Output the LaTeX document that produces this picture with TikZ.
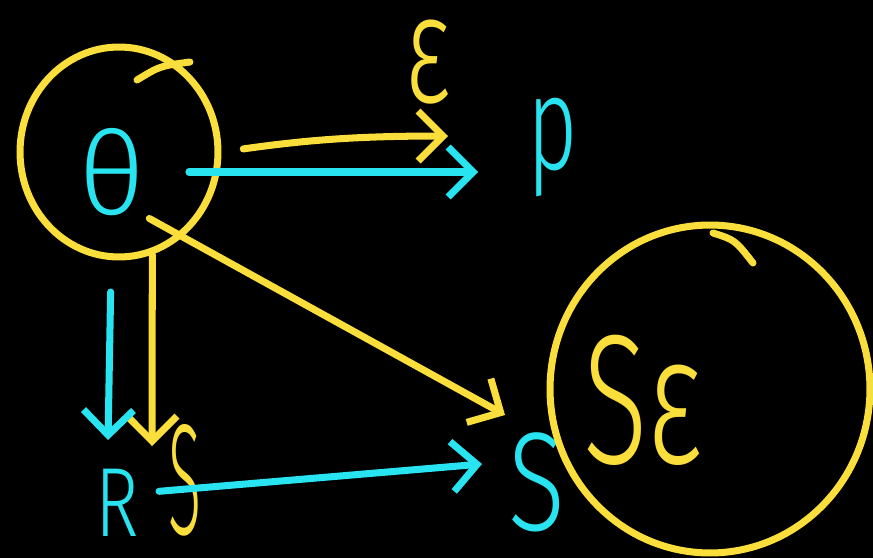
\documentclass[tikz,border=0pt]{standalone}
\usepackage{graphicx}
\usepackage{fontspec}
\newfontfamily\handFont{Fira Sans Light}
\usetikzlibrary{positioning, arrows.meta, shapes.geometric}
\definecolor{penYellow}{RGB}{250,222,60}
\definecolor{penCyan}{RGB}{40,228,240}
\tikzstyle{board} = [x = .02cm, y = -.02cm]
\tikzstyle{penStroke} = [line width = 4pt, line cap = round, line join = round]
\tikzstyle{ringStyle} = [draw = penYellow, penStroke, ellipse, inner sep = 0pt]
\tikzstyle{handTip} = [-{Straight Barb[length = .5cm, width = 1cm]}]
\tikzstyle{yellowPen} = [penStroke, color = penYellow]
\tikzstyle{cyanPen} = [penStroke, color = penCyan]
\tikzstyle{yellowText} = [text = penYellow, inner sep = 0pt, font = \handSize]
\tikzstyle{cyanText} = [text = penCyan, inner sep = 0pt, font = \handSize]
\newcommand{\handSize}{\handFont\fontsize{40}{40}\selectfont}
\newcommand{\glyph}[3]{\scalebox{#1}[#2]{#3}}

\begin{document}
\begin{tikzpicture}[board]
  \fill [black] (0,0) rectangle (873,558);
  \useasboundingbox (0,0) rectangle (873,558);

  % theta and its ring
  \node [ringStyle, minimum width = 3.96cm, minimum height = 4.2cm] (thetaRing) at (119,152) {};
  \draw [yellowPen] (137,80) .. controls (160,66) .. (190,62);
  \node [cyanText] (theta) at (112,172) {\glyph{1.65}{1.65}{θ}};

  % labels
  \node [yellowText] (eps) at (428,62) {\glyph{1.4}{2.2}{ε}};
  \node [cyanText] (p) at (553,148) {\glyph{1.235}{1.9}{p}};
  \node [cyanText] (R) at (117,503) {\glyph{1.05}{1.4}{R}};
  \node [yellowText] (sYellow) at (185,480) {\glyph{.87}{2.25}{S}};
  \node [cyanText] (sCyan) at (537,482) {\glyph{1.5}{2}{S}};

  % the big ring
  \node [ringStyle, minimum width = 6.4cm, minimum height = 6.56cm] (seRing) at (710,389) {};
  \draw [yellowPen] (713,233) .. controls (735,240) .. (753,263);
  \node [yellowText] (se) at (643,400) {\glyph{1.7}{2.625}{Sε}};

  % arrow ends
  \coordinate (epsTip) at (448,136);
  \coordinate (pTip) at (478,172);
  \coordinate (sTip) at (152,446);
  \coordinate (rTip) at (108,440);
  \coordinate (sCyanTip) at (482,464);
  \coordinate (seTip) at (505,415);

  \draw [yellowPen, handTip, shorten < = .44cm] (thetaRing.east) to [bend left = 4] (epsTip);
  \draw [cyanPen, handTip, shorten < = .88cm] (theta.east) -- (pTip);
  \draw [yellowPen, handTip] (thetaRing.-72) -- (sTip);
  \draw [cyanPen, handTip, shorten < = 1.52cm] (theta.south) -- (rTip);
  \draw [cyanPen, handTip, shorten < = .4cm] ([yshift = .2cm]R.east) -- (sCyanTip);
  \draw [yellowPen, handTip, shorten < = .1cm] (theta.south east) -- (seTip);
\end{tikzpicture}
\end{document}
